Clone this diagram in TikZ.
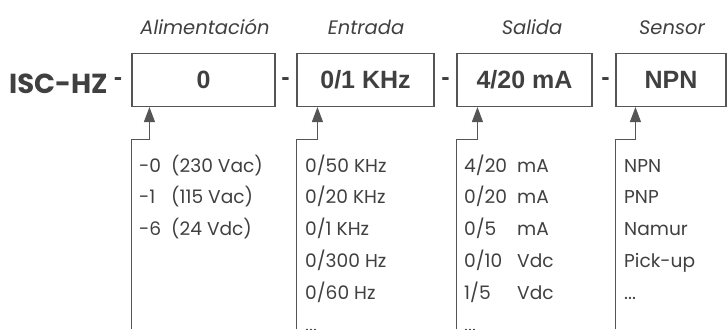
\documentclass[tikz,border=0pt]{standalone}
\usepackage{fontspec}
\usetikzlibrary{arrows.meta}
\newfontfamily\gothic{Poppins}
\newfontfamily\boxfont{Liberation Sans}
\definecolor{txt}{HTML}{404040}
\definecolor{ln}{HTML}{555555}
\tikzset{
  hdr/.style={anchor=base, inner sep=0pt, text=txt, font=\gothic\itshape\fontsize{19.5}{22}\selectfont},
  codebox/.style={draw=ln, line width=1.1pt, minimum height=53pt, inner sep=0pt, text=txt, font=\boxfont\bfseries\fontsize{25}{28}\selectfont},
  sep/.style={inner sep=0pt, text=txt, font=\boxfont\bfseries\fontsize{25}{28}\selectfont},
  lst/.style={anchor=base west, inner sep=0pt, text=txt, font=\gothic\fontsize{18.6}{31.8}\selectfont},
  arr/.style={draw=ln, line width=1.1pt, -{Triangle[length=15pt,width=11pt]}},
}
\begin{document}
\begin{tikzpicture}[x=1pt,y=-1pt]
\useasboundingbox (0,0) rectangle (727,329);
\coordinate (bot) at (0,329);
% headers
\node[hdr] (h1) at (205,35) {Alimentación};
\node[hdr] (h2) at (366,35) {Entrada};
\node[hdr] (h3) at (532,35) {Salida};
\node[hdr] (h4) at (672,35) {Sensor};
% code line
\node[anchor=base west, inner sep=0pt, text=txt, font=\gothic\bfseries\fontsize{27.5}{30}\selectfont] (isc) at (9,93) {ISC-HZ};
\node[sep] (d0) at (118,82) {-};
\node[codebox, minimum width=143pt] (b1) at (203.5,80) {0};
\node[sep] (d1) at (285.5,82) {-};
\node[codebox, minimum width=137pt] (b2) at (365.5,80) {0/1 KHz};
\node[sep] (d2) at (445.5,82) {-};
\node[codebox, minimum width=135pt] (b3) at (524.5,80) {4/20 mA};
\node[sep] (d3) at (605.5,82) {-};
\node[codebox, minimum width=110pt] (b4) at (671,80) {NPN};
% arrows
\draw[arr] (b1.south west |- bot) |- ([xshift=18pt,yshift=-32pt]b1.south west) -- ([xshift=18pt]b1.south west);
\draw[arr] (b2.south west |- bot) |- ([xshift=21pt,yshift=-32pt]b2.south west) -- ([xshift=21pt]b2.south west);
\draw[arr] (b3.south west |- bot) |- ([xshift=21pt,yshift=-32pt]b3.south west) -- ([xshift=21pt]b3.south west);
\draw[arr] (b4.south west |- bot) |- ([xshift=20pt,yshift=-32pt]b4.south west) -- ([xshift=20pt]b4.south west);
% lists
\node[lst] (l1) at (139,172) {\begin{tabular}[t]{@{}l@{}}
\makebox[32pt][l]{-0}(230 Vac)\\
\makebox[32pt][l]{-1}(115 Vac)\\
\makebox[32pt][l]{-6}(24 Vdc)
\end{tabular}};
\node[lst] (l2) at (305,172) {\begin{tabular}[t]{@{}l@{}}
0/50 KHz\\ 0/20 KHz\\ 0/1 KHz\\ 0/300 Hz\\ 0/60 Hz\\ ...
\end{tabular}};
\node[lst] (l3) at (464,172) {\begin{tabular}[t]{@{}l@{}}
\makebox[53pt][l]{4/20}mA\\
\makebox[53pt][l]{0/20}mA\\
\makebox[53pt][l]{0/5}mA\\
\makebox[53pt][l]{0/10}Vdc\\
\makebox[53pt][l]{1/5}Vdc\\
...
\end{tabular}};
\node[lst] (l4) at (624,172) {\begin{tabular}[t]{@{}l@{}}
NPN\\ PNP\\ Namur\\ Pick-up\\ ...
\end{tabular}};
\end{tikzpicture}
\end{document}
